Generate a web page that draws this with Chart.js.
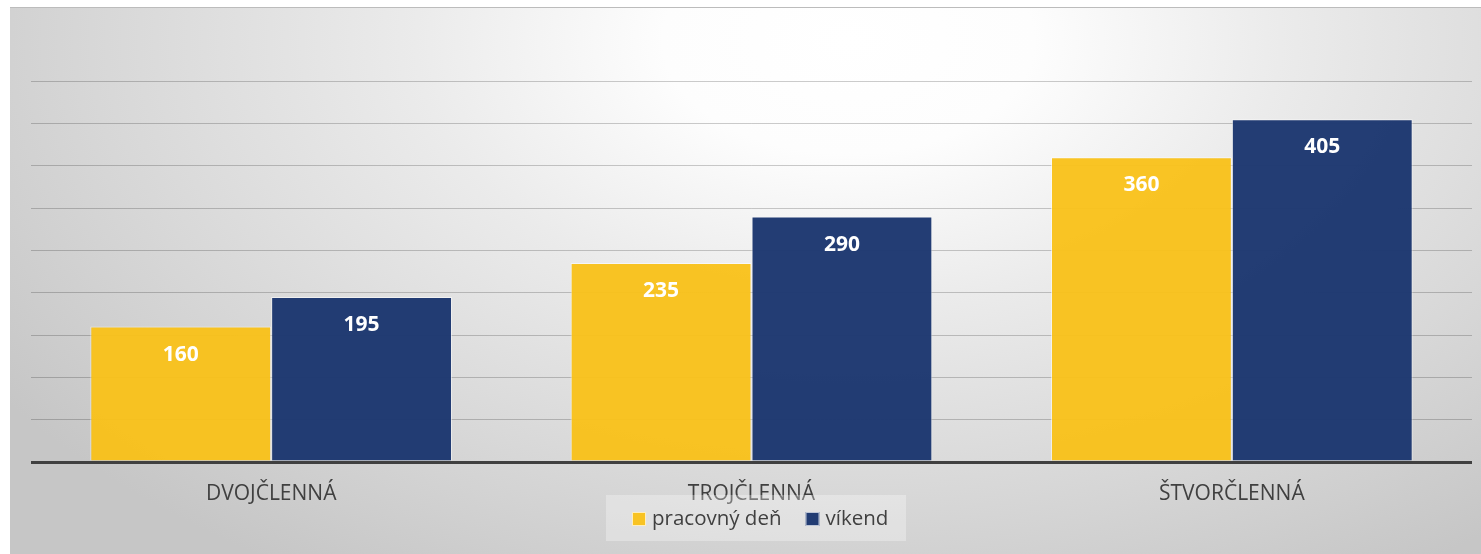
<!DOCTYPE html>
<html>
<head>
<meta charset="utf-8">
<script src="https://cdn.jsdelivr.net/npm/chart.js@4/dist/chart.umd.min.js"></script>
<style>
  html, body { margin: 0; padding: 0; background: #fff; }
  body { width: 1481px; height: 554px; position: relative; overflow: hidden; }
  .frame {
    position: absolute; left: 10px; top: 7px; width: 1471px; height: 547px;
    border-top: 1px solid #bcbcbc; box-sizing: border-box;
    background: radial-gradient(ellipse 70% 115% at 57% 6%, #ffffff 0%, #fdfdfd 18%, #ebebeb 42%, #d8d8d8 72%, #c6c6c6 100%);
  }
  .frame canvas { position: absolute; left: 0; top: 0; }
</style>
</head>
<body>
<div class="frame"><canvas id="chart" width="1471" height="546"></canvas></div>
<script>
// ── Data ─────────────────────────────────────────────
const categories = ['DVOJČLENNÁ', 'TROJČLENNÁ', 'ŠTVORČLENNÁ'];
const workday    = [160, 235, 360];
const weekend    = [195, 290, 405];
const seriesNames = ['pracovný deň', 'víkend'];

const YELLOW = 'rgba(249,193,24,0.95)';
const NAVY   = 'rgba(28,55,112,0.97)';
const TEXT   = '#404040';
const FONT   = '"Open Sans", "Noto Sans", sans-serif';

// ── Labels inside bars ──────────────────────────────
const valueLabels = {
  id: 'valueLabels',
  afterDatasetsDraw(chart) {
    const ctx = chart.ctx;
    ctx.save();
    ctx.fillStyle = '#fff';
    ctx.font = 'bold 21px ' + FONT;
    ctx.textAlign = 'center';
    ctx.textBaseline = 'middle';
    chart.data.datasets.forEach((ds, i) => {
      chart.getDatasetMeta(i).data.forEach((bar, j) => {
        ctx.fillText(String(ds.data[j]), bar.x, bar.y + 28);
      });
    });
    ctx.restore();
  }
};

// ── Legend box overlapping the axis labels ──────────
const boxLegend = {
  id: 'boxLegend',
  afterDraw(chart) {
    const ctx = chart.ctx;
    const bx = 596, by = 487, bw = 300, bh = 46;
    ctx.save();
    ctx.fillStyle = 'rgba(255,255,255,0.3)';
    ctx.fillRect(bx, by, bw, bh);
    ctx.font = '20.5px ' + FONT;
    ctx.textBaseline = 'middle';
    let x = bx + 26;
    const cy = by + 24;
    chart.data.datasets.forEach(ds => {
      ctx.fillStyle = ds.backgroundColor;
      ctx.fillRect(x, cy - 7, 14, 14);
      ctx.strokeStyle = 'rgba(255,255,255,0.7)';
      ctx.lineWidth = 1;
      ctx.strokeRect(x + 0.5, cy - 6.5, 13, 13);
      ctx.fillStyle = TEXT;
      ctx.fillText(ds.label, x + 20, cy);
      x += 20 + ctx.measureText(ds.label).width + 24;
    });
    ctx.restore();
  }
};

new Chart(document.getElementById('chart'), {
  type: 'bar',
  data: {
    labels: categories,
    datasets: [
      { label: seriesNames[0], data: workday, backgroundColor: YELLOW, borderColor: 'rgba(255,255,255,0.55)', borderWidth: 1 },
      { label: seriesNames[1], data: weekend, backgroundColor: NAVY,   borderColor: 'rgba(255,255,255,0.55)', borderWidth: 1 }
    ]
  },
  options: {
    responsive: false,
    animation: false,
    layout: { padding: { left: 21, right: 9, top: 2, bottom: 0 } },
    datasets: { bar: { categoryPercentage: 0.753, barPercentage: 1 } },
    plugins: { legend: { display: false }, tooltip: { enabled: false } },
    scales: {
      x: {
        grid: { display: false },
        border: { display: false },
        ticks: { color: TEXT, font: { family: FONT, size: 21 }, padding: 11 },
        afterFit: s => { s.height = 92; }
      },
      y: {
        min: 0, max: 534,
        ticks: { display: false, stepSize: 50 },
        border: { display: false },
        grid: {
          drawTicks: false,
          color: c => c.tick.value === 0 ? '#404040' : (c.tick.value > 450 ? 'rgba(0,0,0,0)' : 'rgba(0,0,0,0.2)'),
          lineWidth: c => c.tick.value === 0 ? 3 : 1
        },
        afterFit: s => { s.width = 0; }
      }
    }
  },
  plugins: [valueLabels, boxLegend]
});
</script>
</body>
</html>
